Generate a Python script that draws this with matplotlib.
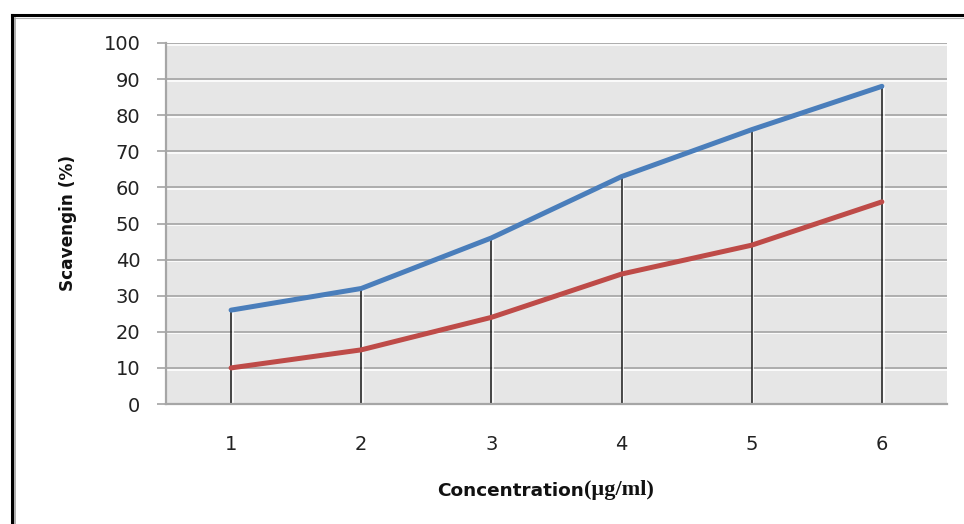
import matplotlib
matplotlib.use("Agg")
import matplotlib.pyplot as plt
import matplotlib.patheffects as pe
from matplotlib.lines import Line2D

concentration = [1, 2, 3, 4, 5, 6]
series_blue = [26, 32, 46, 63, 76, 88]
series_red = [10, 15, 24, 36, 44, 56]
y_ticks = [0, 10, 20, 30, 40, 50, 60, 70, 80, 90, 100]

plt.rcParams['font.family'] = ['DejaVu Sans']

W, H = 964, 524
fig = plt.figure(figsize=(W / 100, H / 100), dpi=100)
fig.patch.set_facecolor('white')

# plot area in pixel terms of the reference
left, right, top, bottom = 166, 947, 43, 404
ax = fig.add_axes([left / W, 1 - bottom / H, (right - left) / W, (bottom - top) / H])
ax.set_facecolor('#e6e6e6')

ax.set_xlim(0.5, 6.5)
ax.set_ylim(0, 100)
ax.set_yticks(y_ticks)
ax.set_xticks(concentration)

# horizontal gridlines with a white highlight under them
shadow = [pe.SimpleLineShadow(offset=(0, -1.2), shadow_color='white', alpha=1), pe.Normal()]
for v in y_ticks[1:]:
    ax.axhline(v, color='#a3a3a3', lw=1.2, zorder=1, path_effects=shadow)

# drop lines from the upper series
drop = ax.vlines(concentration, 0, series_blue, color='#1a1a1a', lw=1.1, zorder=2)
drop.set_path_effects([pe.SimpleLineShadow(offset=(1.2, 0), shadow_color='white', alpha=1), pe.Normal()])

ax.plot(concentration, series_blue, color='#4a7ebb', lw=3.6, solid_capstyle='round',
        solid_joinstyle='round', zorder=3)
ax.plot(concentration, series_red, color='#be4b48', lw=3.6, solid_capstyle='round',
        solid_joinstyle='round', zorder=3)

for s in ['top', 'right']:
    ax.spines[s].set_visible(False)
ax.spines['left'].set_color('#a6a6a6')
ax.spines['left'].set_linewidth(1.6)
ax.spines['bottom'].set_color('#a6a6a6')
ax.spines['bottom'].set_linewidth(1.6)

ax.tick_params(axis='y', length=6.5, width=1.2, color='#a3a3a3', pad=12,
               labelsize=14, labelcolor='#222222')
ax.tick_params(axis='x', length=0, pad=22, labelsize=14, labelcolor='#222222')

fig.text(68 / W, 1 - 223 / H, 'Scavengin (%)', rotation=90, ha='center', va='center',
         fontsize=12.2, fontweight='bold', color='#111111')
fig.text(584 / W, 1 - 491 / H, 'Concentration', ha='right', va='center',
         fontsize=13.3, fontweight='bold', color='#111111')
fig.text(584 / W, 1 - 490 / H, '(\u00b5g/ml)', ha='left', va='center',
         fontsize=16, fontweight='bold', color='#111111',
         family=['Liberation Serif', 'DejaVu Serif'])

# outer frame (top and left only)
ytop = 1 - 15 / H
xl = 12 / W
fig.add_artist(Line2D([xl, 1], [ytop, ytop], color='black', lw=2.2, transform=fig.transFigure))
fig.add_artist(Line2D([xl, 1], [ytop - 2.5 / H, ytop - 2.5 / H], color='#b0b0b0', lw=0.8,
                      transform=fig.transFigure))
fig.add_artist(Line2D([xl, xl], [0, ytop], color='black', lw=2.2, transform=fig.transFigure))
fig.add_artist(Line2D([xl + 3.5 / W, xl + 3.5 / W], [0, ytop - 2.5 / H], color='#a0a0a0', lw=1.2,
                      transform=fig.transFigure))

fig.savefig('out.png', dpi=100)
